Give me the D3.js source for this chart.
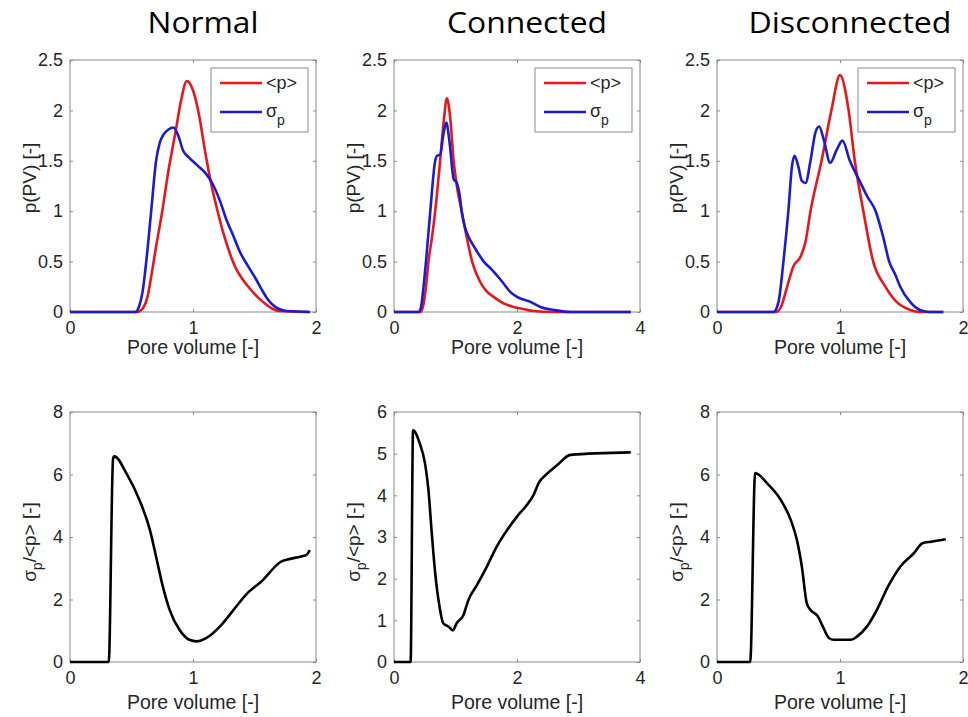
<!DOCTYPE html>
<html><head><meta charset="utf-8">
<script src="https://cdn.jsdelivr.net/npm/d3@7"></script>
<style>body{margin:0;background:#fff}svg{display:block}</style>
</head><body><svg id="chart" width="968" height="717"></svg>
<script>
// ---------- data ----------
const titles = ["Normal", "Connected", "Disconnected"];
const meanLabel = "<p>";
const sigmaLabel = "σ";
const xLabel = "Pore volume [-]";
const topYLabel = "p(PV) [-]";

const topXDomains = [[0, 2], [0, 4], [0, 2]];
const topXTicks = [[0, 1, 2], [0, 2, 4], [0, 1, 2]];
const topYTicks = [0, 0.5, 1, 1.5, 2, 2.5];
const botYDomains = [[0, 8], [0, 6], [0, 8]];
const botYTicks = [[0, 2, 4, 6, 8], [0, 1, 2, 3, 4, 5, 6], [0, 2, 4, 6, 8]];

// Normal
const normalMeanX = [0, 0.55, 0.57, 0.6, 0.63, 0.66, 0.7, 0.75, 0.8, 0.86, 0.9, 0.95, 1.0, 1.05, 1.1, 1.15, 1.2, 1.25, 1.3, 1.35, 1.4, 1.45, 1.5, 1.55, 1.6, 1.65, 1.7, 1.95];
const normalMeanY = [0, 0, 0.01, 0.05, 0.15, 0.35, 0.65, 1.0, 1.4, 1.8, 2.08, 2.29, 2.2, 1.95, 1.58, 1.26, 1.0, 0.77, 0.58, 0.43, 0.33, 0.25, 0.18, 0.12, 0.07, 0.03, 0.01, 0];
const normalSigmaX = [0, 0.53, 0.56, 0.59, 0.62, 0.66, 0.7, 0.73, 0.76, 0.8, 0.84, 0.88, 0.92, 0.97, 1.04, 1.1, 1.16, 1.22, 1.27, 1.33, 1.38, 1.45, 1.51, 1.56, 1.6, 1.65, 1.7, 1.76, 1.95];
const normalSigmaY = [0, 0, 0.05, 0.2, 0.5, 1.0, 1.5, 1.68, 1.76, 1.81, 1.83, 1.75, 1.6, 1.53, 1.45, 1.38, 1.27, 1.1, 0.92, 0.75, 0.6, 0.45, 0.33, 0.22, 0.14, 0.07, 0.03, 0.01, 0];
const normalRatioX = [0, 0.315, 0.35, 0.36, 0.46, 0.565, 0.65, 0.70, 0.755, 0.81, 0.89, 0.97, 1.03, 1.11, 1.22, 1.33, 1.43, 1.57, 1.68, 1.71, 1.79, 1.87, 1.92, 1.95];
const normalRatioY = [0, 0, 6.5, 6.58, 6.03, 5.18, 4.22, 3.37, 2.41, 1.67, 1.03, 0.71, 0.66, 0.77, 1.14, 1.67, 2.15, 2.63, 3.1, 3.2, 3.3, 3.37, 3.42, 3.58];

// Connected
const connMeanX = [0, 0.43, 0.47, 0.52, 0.56, 0.62, 0.67, 0.75, 0.81, 0.86, 0.91, 0.97, 1.03, 1.1, 1.18, 1.27, 1.4, 1.5, 1.62, 1.8, 1.95, 2.1, 2.27, 2.6, 3.85];
const connMeanY = [0, 0, 0.05, 0.25, 0.5, 0.75, 1.0, 1.5, 1.9, 2.12, 1.95, 1.5, 1.22, 1.0, 0.75, 0.5, 0.3, 0.21, 0.15, 0.08, 0.05, 0.03, 0.01, 0, 0];
const connSigmaX = [0, 0.4, 0.44, 0.48, 0.52, 0.59, 0.67, 0.7, 0.75, 0.8, 0.85, 0.9, 0.97, 1.02, 1.07, 1.1, 1.15, 1.21, 1.28, 1.35, 1.46, 1.59, 1.76, 1.89, 2.0, 2.22, 2.38, 2.6, 2.87, 3.85];
const connSigmaY = [0, 0, 0.05, 0.25, 0.5, 1.0, 1.5, 1.55, 1.56, 1.75, 1.88, 1.7, 1.32, 1.28, 1.15, 1.0, 0.85, 0.75, 0.67, 0.6, 0.5, 0.42, 0.3, 0.2, 0.15, 0.1, 0.05, 0.02, 0, 0];
const connRatioX = [0, 0.27, 0.31, 0.42, 0.505, 0.56, 0.61, 0.67, 0.74, 0.80, 0.886, 0.957, 1.02, 1.13, 1.21, 1.35, 1.51, 1.67, 1.84, 2.0, 2.16, 2.27, 2.35, 2.49, 2.65, 2.87, 3.85];
const connRatioY = [0, 0, 5.56, 5.24, 4.76, 4.13, 3.17, 2.13, 1.33, 0.93, 0.85, 0.76, 0.93, 1.13, 1.49, 1.85, 2.29, 2.77, 3.17, 3.49, 3.77, 4.01, 4.29, 4.52, 4.72, 4.97, 5.03];

// Disconnected
const discMeanX = [0, 0.48, 0.52, 0.57, 0.62, 0.68, 0.72, 0.76, 0.85, 0.93, 1.0, 1.07, 1.12, 1.19, 1.27, 1.37, 1.46, 1.57, 1.65, 1.84];
const discMeanY = [0, 0, 0.05, 0.25, 0.45, 0.55, 0.7, 1.0, 1.5, 2.0, 2.35, 2.0, 1.5, 1.0, 0.5, 0.25, 0.1, 0.02, 0, 0];
const discSigmaX = [0, 0.46, 0.5, 0.54, 0.58, 0.61, 0.63, 0.66, 0.69, 0.72, 0.76, 0.8, 0.83, 0.87, 0.92, 0.97, 1.02, 1.08, 1.16, 1.22, 1.29, 1.35, 1.4, 1.45, 1.49, 1.57, 1.65, 1.73, 1.84];
const discSigmaY = [0, 0, 0.1, 0.5, 1.0, 1.45, 1.55, 1.45, 1.3, 1.28, 1.5, 1.78, 1.84, 1.7, 1.48, 1.6, 1.70, 1.5, 1.3, 1.15, 1.0, 0.75, 0.5, 0.37, 0.25, 0.1, 0.02, 0, 0];
const discRatioX = [0, 0.27, 0.31, 0.41, 0.52, 0.60, 0.65, 0.69, 0.73, 0.76, 0.82, 0.86, 0.91, 0.95, 1.09, 1.14, 1.22, 1.30, 1.39, 1.49, 1.60, 1.67, 1.74, 1.86];
const discRatioY = [0, 0, 6.05, 5.71, 5.18, 4.54, 3.9, 3.05, 1.88, 1.67, 1.46, 1.14, 0.77, 0.71, 0.71, 0.82, 1.14, 1.67, 2.41, 3.05, 3.48, 3.8, 3.85, 3.93];

const meanSeries = [[normalMeanX, normalMeanY], [connMeanX, connMeanY], [discMeanX, discMeanY]];
const sigmaSeries = [[normalSigmaX, normalSigmaY], [connSigmaX, connSigmaY], [discSigmaX, discSigmaY]];
const ratioSeries = [[normalRatioX, normalRatioY], [connRatioX, connRatioY], [discRatioX, discRatioY]];

// ---------- layout ----------
const svg = d3.select("#chart");
const colLeft = [70, 394, 717];
const plotW = 246;
const topRow = {y: 60, h: 252};
const botRow = {y: 412, h: 250};
const RED = "#e8171c", BLUE = "#1c1ccf", BOX = "#8a8a8a", TXT = "#262626";
const tickFont = "Liberation Sans, Arial, sans-serif";
const fmt = d => String(d);

function zip(a, b) { return a.map((v, i) => [v, b[i]]); }

function drawAxes(g, x, y, w, h, xt, yt) {
  g.append("rect").attr("x", 0).attr("y", 0).attr("width", w).attr("height", h)
    .attr("fill", "#fff").attr("stroke", BOX).attr("stroke-width", 1);
  const ax = [
    [d3.axisBottom(x).tickValues(xt).tickFormat(fmt).tickSize(-3).tickPadding(9), `translate(0,${h})`, true],
    [d3.axisTop(x).tickValues(xt).tickSize(-3), `translate(0,0)`, false],
    [d3.axisLeft(y).tickValues(yt).tickFormat(fmt).tickSize(-3).tickPadding(7), `translate(0,0)`, true],
    [d3.axisRight(y).tickValues(yt).tickSize(-3), `translate(${w},0)`, false]
  ];
  ax.forEach(([a, t, lab]) => {
    const s = g.append("g").attr("transform", t).call(a);
    s.select(".domain").remove();
    s.selectAll(".tick line").attr("stroke", BOX);
    s.selectAll(".tick text").attr("font-family", tickFont).attr("font-size", 18).attr("fill", TXT);
    if (!lab) s.selectAll(".tick text").remove();
  });
}

const titleLen = [111, 160, 203];
titles.forEach((t, i) => {
  svg.append("text").attr("x", colLeft[i] + plotW / 2 + 10).attr("y", 33)
    .attr("text-anchor", "middle").attr("font-family", "Open Sans, sans-serif")
    .attr("font-size", 29).attr("fill", "#000")
    .attr("textLength", titleLen[i]).attr("lengthAdjust", "spacingAndGlyphs").text(t);
});

for (let i = 0; i < 3; i++) {
  // top panel
  const g = svg.append("g").attr("transform", `translate(${colLeft[i]},${topRow.y})`);
  const x = d3.scaleLinear().domain(topXDomains[i]).range([0, plotW]);
  const y = d3.scaleLinear().domain([0, 2.5]).range([topRow.h, 0]);
  drawAxes(g, x, y, plotW, topRow.h, topXTicks[i], topYTicks);
  const line = d3.line().x(d => x(d[0])).y(d => y(d[1])).curve(d3.curveMonotoneX);
  g.append("path").datum(zip(...meanSeries[i])).attr("d", line)
    .attr("fill", "none").attr("stroke", RED).attr("stroke-width", 2.6).attr("stroke-linejoin", "round");
  g.append("path").datum(zip(...sigmaSeries[i])).attr("d", line)
    .attr("fill", "none").attr("stroke", BLUE).attr("stroke-width", 2.6).attr("stroke-linejoin", "round");

  // legend
  const lw = 97, lh = 64;
  const lg = g.append("g").attr("transform", `translate(${plotW - 8 - lw},8)`);
  lg.append("rect").attr("width", lw).attr("height", lh).attr("fill", "#fff").attr("stroke", BOX);
  lg.append("line").attr("x1", 9).attr("x2", 51).attr("y1", 15).attr("y2", 15).attr("stroke", RED).attr("stroke-width", 2.6);
  lg.append("line").attr("x1", 9).attr("x2", 51).attr("y1", 44).attr("y2", 44).attr("stroke", BLUE).attr("stroke-width", 2.6);
  lg.append("text").attr("x", 55).attr("y", 21).attr("font-family", tickFont).attr("font-size", 18).attr("fill", TXT).text(meanLabel);
  const st = lg.append("text").attr("x", 55).attr("y", 49).attr("font-family", tickFont).attr("font-size", 18).attr("fill", TXT);
  st.append("tspan").text(sigmaLabel);
  st.append("tspan").attr("dy", 8).attr("font-size", 14).text("p");

  g.append("text").attr("x", plotW / 2).attr("y", topRow.h + 42).attr("text-anchor", "middle")
    .attr("font-family", tickFont).attr("font-size", 19.5).attr("fill", TXT).text(xLabel);
  g.append("text").attr("transform", `translate(-34,${topRow.h / 2 - 8}) rotate(-90)`).attr("text-anchor", "middle")
    .attr("font-family", tickFont).attr("font-size", 19).attr("fill", TXT).text(topYLabel);

  // bottom panel
  const gb = svg.append("g").attr("transform", `translate(${colLeft[i]},${botRow.y})`);
  const xb = d3.scaleLinear().domain(topXDomains[i]).range([0, plotW]);
  const yb = d3.scaleLinear().domain(botYDomains[i]).range([botRow.h, 0]);
  drawAxes(gb, xb, yb, plotW, botRow.h, topXTicks[i], botYTicks[i]);
  const lineb = d3.line().x(d => xb(d[0])).y(d => yb(d[1])).curve(d3.curveMonotoneX);
  gb.append("path").datum(zip(...ratioSeries[i])).attr("d", lineb)
    .attr("fill", "none").attr("stroke", "#000").attr("stroke-width", 2.6).attr("stroke-linejoin", "round");
  gb.append("text").attr("x", plotW / 2).attr("y", botRow.h + 47).attr("text-anchor", "middle")
    .attr("font-family", tickFont).attr("font-size", 19.5).attr("fill", TXT).text(xLabel);
  const yl = gb.append("text").attr("transform", `translate(-34,${botRow.h / 2 + 5}) rotate(-90)`).attr("text-anchor", "middle")
    .attr("font-family", tickFont).attr("font-size", 19).attr("fill", TXT);
  yl.append("tspan").text(sigmaLabel);
  yl.append("tspan").attr("dy", 6).attr("font-size", 14).text("p");
  yl.append("tspan").attr("dy", -6).text("/<p> [-]");
}
</script>
</body></html>
